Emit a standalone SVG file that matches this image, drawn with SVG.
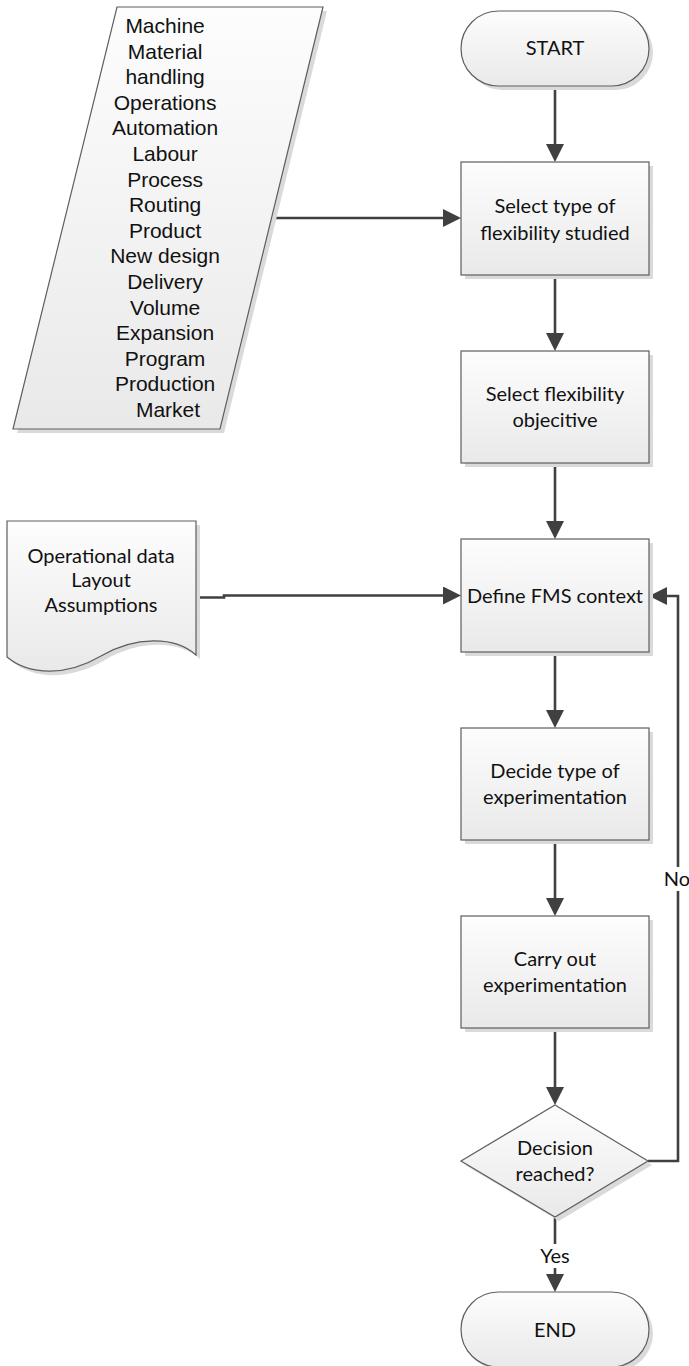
<svg xmlns="http://www.w3.org/2000/svg" width="689" height="1366" viewBox="0 0 689 1366">
  <defs>
    <linearGradient id="shapeFill" x1="0" y1="0" x2="0" y2="1">
      <stop offset="0" stop-color="#fdfdfd"/>
      <stop offset="1" stop-color="#e9e9e9"/>
    </linearGradient>
    <marker id="arrow" markerUnits="userSpaceOnUse" markerWidth="18" markerHeight="18" viewBox="0 0 18 18" refX="8" refY="9" orient="auto">
      <path d="M0,0 L18,9 L0,18 z" fill="#404040"/>
    </marker>
    <style>
      .shadow { fill: #dadada; stroke: none; }
      .shape { fill: url(#shapeFill); stroke: #5e5e5e; stroke-width: 1.2; }
      .label { font-family: Lato, "Liberation Sans", sans-serif; font-size: 20px; fill: #111; text-anchor: middle; }
      .list { font-family: "Liberation Sans", Arial, sans-serif; font-size: 21px; fill: #111; text-anchor: middle; }
      .conn { fill: none; stroke: #404040; stroke-width: 2.6; }
      .gap { fill: #ffffff; stroke: none; }
    </style>
  </defs>
  <rect width="689" height="1366" fill="#ffffff"/>

  <!-- connectors -->
  <g id="connectors">
    <path class="conn" d="M555,86 V152" marker-end="url(#arrow)"/>
    <path class="conn" d="M555,275 V341" marker-end="url(#arrow)"/>
    <path class="conn" d="M555,463 V529" marker-end="url(#arrow)"/>
    <path class="conn" d="M555,652 V718" marker-end="url(#arrow)"/>
    <path class="conn" d="M555,840 V906" marker-end="url(#arrow)"/>
    <path class="conn" d="M555,1028 V1095" marker-end="url(#arrow)"/>
    <path class="conn" d="M555,1217 V1282" marker-end="url(#arrow)"/>
    <path class="conn" d="M648,1161 H678 V596 H659" marker-end="url(#arrow)"/>
    <path class="conn" d="M272,218 H451" marker-end="url(#arrow)"/>
    <path class="conn" d="M196,597.5 H224 V595.5 H451" marker-end="url(#arrow)"/>
    <!-- connector labels -->
    <rect class="gap" x="664" y="867" width="25" height="24"/>
    <text class="label" x="677" y="886">No</text>
    <rect class="gap" x="539" y="1244" width="32" height="24"/>
    <text class="label" x="555" y="1263">Yes</text>
  </g>

  <!-- flexibility types (input data) -->
  <g id="flexibility-types">
    <polygon class="shadow" points="121,11 327,11 224,433 17,433"/>
    <polygon class="shape" points="117,7 323,7 220,429 13,429"/>
    <text class="list" x="168">
      <tspan x="168" y="33">Machine</tspan>
      <tspan x="168" y="58.6">Material</tspan>
      <tspan x="168" y="84.2">handling</tspan>
      <tspan x="168" y="109.8">Operations</tspan>
      <tspan x="168" y="135.4">Automation</tspan>
      <tspan x="168" y="161">Labour</tspan>
      <tspan x="168" y="186.6">Process</tspan>
      <tspan x="168" y="212.2">Routing</tspan>
      <tspan x="168" y="237.8">Product</tspan>
      <tspan x="168" y="263.4">New design</tspan>
      <tspan x="168" y="289">Delivery</tspan>
      <tspan x="168" y="314.6">Volume</tspan>
      <tspan x="168" y="340.2">Expansion</tspan>
      <tspan x="168" y="365.8">Program</tspan>
      <tspan x="168" y="391.4">Production</tspan>
      <tspan x="168" y="417">Market</tspan>
    </text>
  </g>

  <!-- document: context data -->
  <g id="context-data">
    <path class="shadow" transform="translate(4,4)" d="M7,521 H196 V655 C175,636 135,636 101,656 C67,676 30,676 7,657 Z"/>
    <path class="shape" d="M7,521 H196 V655 C175,636 135,636 101,656 C67,676 30,676 7,657 Z"/>
    <text class="label" x="101" y="563">Operational data</text>
    <text class="label" x="101" y="587">Layout</text>
    <text class="label" x="101" y="612">Assumptions</text>
  </g>

  <g id="start">
    <rect class="shadow" x="465" y="15" width="188" height="75" rx="37.5"/>
    <rect class="shape" x="461" y="11" width="188" height="75" rx="37.5"/>
    <text class="label" x="555" y="55">START</text>
  </g>

  <g id="select-type">
    <rect class="shadow" x="465" y="166" width="188" height="113"/>
    <rect class="shape" x="461" y="162" width="188" height="113"/>
    <text class="label" x="555" y="213">Select type of</text>
    <text class="label" x="555" y="240">flexibility studied</text>
  </g>

  <g id="select-objective">
    <rect class="shadow" x="465" y="355" width="188" height="112"/>
    <rect class="shape" x="461" y="351" width="188" height="112"/>
    <text class="label" x="555" y="401">Select flexibility</text>
    <text class="label" x="555" y="427">objecitive</text>
  </g>

  <g id="define-context">
    <rect class="shadow" x="465" y="543" width="188" height="113"/>
    <rect class="shape" x="461" y="539" width="188" height="113"/>
    <text class="label" x="555" y="603">Define FMS context</text>
  </g>

  <g id="decide-type">
    <rect class="shadow" x="465" y="732" width="188" height="112"/>
    <rect class="shape" x="461" y="728" width="188" height="112"/>
    <text class="label" x="555" y="778">Decide type of</text>
    <text class="label" x="555" y="804">experimentation</text>
  </g>

  <g id="carry-out">
    <rect class="shadow" x="465" y="920" width="188" height="112"/>
    <rect class="shape" x="461" y="916" width="188" height="112"/>
    <text class="label" x="555" y="966">Carry out</text>
    <text class="label" x="555" y="992">experimentation</text>
  </g>

  <g id="decision">
    <polygon class="shadow" points="559,1109 652,1165 559,1221 465,1165"/>
    <polygon class="shape" points="555,1105 648,1161 555,1217 461,1161"/>
    <text class="label" x="555" y="1155">Decision</text>
    <text class="label" x="555" y="1181">reached?</text>
  </g>

  <g id="end">
    <rect class="shadow" x="465" y="1296" width="188" height="75" rx="37.5"/>
    <rect class="shape" x="461" y="1292" width="188" height="75" rx="37.5"/>
    <text class="label" x="555" y="1337">END</text>
  </g>
</svg>
